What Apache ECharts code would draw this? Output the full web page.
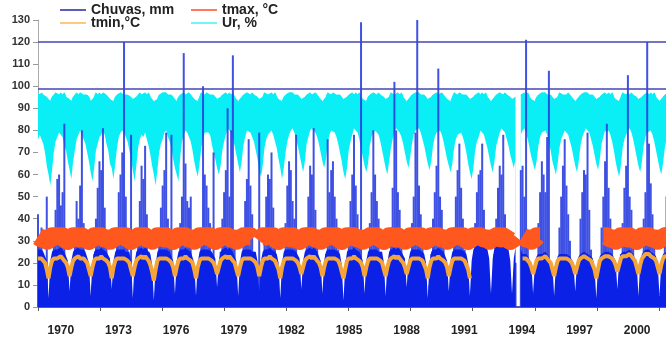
<!DOCTYPE html>
<html>
<head>
<meta charset="utf-8">
<script src="https://cdn.jsdelivr.net/npm/echarts@6/dist/echarts.min.js"></script>
<style>html,body{margin:0;padding:0;background:#fff}#chart{width:666px;height:342px}</style>
</head>
<body>
<div id="chart"></div>
<script>
// monthly series, Jan 1970 .. Dec 1999 (one row per year)
var yearLabels = ['1970', '1973', '1976', '1979', '1982', '1985', '1988', '1991', '1994', '1997', '2000'];

var chuvas = [
  42, 30, 36, 22, 15, 50, 4, 6, 16, 30, 44, 58,
  60, 46, 52, 83, 20, 8, 3, 5, 12, 34, 48, 40,
  55, 80, 38, 20, 14, 6, 2, 10, 24, 40, 54, 66,
  62, 81, 45, 30, 12, 5, 4, 8, 20, 36, 52, 60,
  70, 120, 50, 28, 15, 78, 3, 6, 22, 34, 48, 64,
  58, 73, 42, 25, 12, 4, 3, 7, 18, 30, 45, 55,
  62, 79, 40, 35, 78, 6, 2, 5, 15, 38, 50, 115,
  65, 48, 45, 50, 18, 5, 3, 8, 20, 32, 100, 60,
  55, 45, 38, 22, 70, 6, 3, 9, 25, 40, 52, 62,
  90, 50, 80, 114, 30, 8, 4, 6, 18, 35, 48, 58,
  76, 55, 42, 25, 15, 5, 79, 6, 20, 35, 50, 60,
  58, 70, 45, 30, 18, 6, 3, 8, 22, 38, 55, 66,
  62, 48, 40, 78, 14, 5, 4, 10, 20, 36, 50, 64,
  60, 81, 44, 28, 15, 6, 3, 9, 24, 76, 52, 62,
  66, 50, 40, 26, 12, 5, 3, 8, 20, 34, 48, 60,
  78, 55, 42, 30, 129, 6, 4, 8, 22, 38, 52, 80,
  60, 48, 40, 25, 14, 5, 3, 9, 20, 36, 54, 102,
  80, 52, 44, 28, 15, 6, 3, 8, 22, 38, 50, 79,
  130, 55, 42, 30, 16, 6, 4, 10, 24, 40, 52, 64,
  108, 50, 44, 28, 14, 5, 3, 8, 20, 36, 50, 62,
  74, 54, 40, 26, 12, 5, 3, 8, 22, 38, 52, 60,
  62, 74, 44, 28, 15, 6, 4, 9, 24, 40, 54, 64,
  60, 78, 42, 30, 14, 5, 3, 8, 20, null, null, 62,
  64, 50, 121, 28, 15, 6, 4, 10, 22, 38, 52, 66,
  60, 52, 77, 107, 16, 6, 3, 8, 20, 36, 50, 64,
  76, 55, 42, 30, 14, 5, 4, 9, 22, 40, 52, 62,
  60, 79, 44, 26, 15, 6, 3, 8, 20, 36, 50, 66,
  83, 54, 40, 28, 12, 5, 3, 10, 24, 38, 54, 64,
  105, 50, 44, 30, 15, 6, 4, 8, 22, 40, 52, 120,
  74, 56, 42, 28, 14, 5, 3, 9, 20, 36, 50, 62
];

var tmax = [
  32, 32, 31, 31, 31, 30, 30, 31, 32, 32, 32, 32,
  32, 32, 32, 31, 31, 30, 30, 31, 32, 32, 32, 32,
  31, 32, 32, 31, 31, 30, 30, 31, 32, 32, 32, 32,
  32, 32, 31, 31, 31, 30, 30, 31, 32, 32, 32, 32,
  32, 32, 32, 31, 31, 30, 30, 31, 31, 32, 32, 32,
  32, 32, 31, 31, 31, 30, 30, 31, 32, 32, 32, 32,
  31, 32, 32, 31, 31, 30, 30, 31, 32, 32, 32, 32,
  32, 32, 31, 31, 31, 30, 30, 31, 32, 32, 32, 32,
  32, 32, 32, 31, 31, 30, 30, 31, 32, 32, 32, 32,
  32, 32, 31, 31, 31, 30, 30, 31, 31, 32, 32, 32,
  32, 32, 31, null, null, null, 30, 31, 32, 32, 32, 32,
  32, 32, 32, 31, 31, 30, 30, 31, 32, 32, 32, 32,
  31, 32, 32, 31, 31, 30, 30, 31, 32, 32, 32, 32,
  32, 32, 31, 31, 31, 30, 30, 31, 32, 32, 32, 32,
  32, 32, 32, 31, 31, 30, 30, 31, 32, 32, 32, 32,
  32, 32, 31, 31, 31, 30, 30, 31, 31, 32, 32, 32,
  32, 32, 32, 31, 31, 30, 30, 31, 32, 32, 32, 32,
  31, 32, 31, 31, 31, 30, 30, 31, 32, 32, 32, 32,
  32, 32, 32, 31, 31, 30, 30, 31, 32, 32, 32, 32,
  32, 32, 31, 31, 31, 30, 30, 31, 32, 32, 32, 32,
  32, 32, 32, 31, 31, 30, 30, 31, 32, 32, 32, 32,
  32, 32, 31, 31, 31, 30, 30, 31, 31, 32, 32, 32,
  31, 32, 32, 31, 31, 30, 30, 31, 32, null, null, null,
  32, 32, 31, 31, 31, 30, 30, 31, 32, 32, 32, null,
  null, null, null, null, null, null, null, null, null, null, null, null,
  null, null, null, null, null, null, null, null, null, null, null, null,
  null, null, null, null, null, null, null, null, null, null, 32, 32,
  32, 32, 31, 31, 31, 30, 30, 31, 32, 32, 32, 32,
  31, 32, 32, 31, 31, 30, 30, 31, 32, 32, 32, 32,
  32, 32, 31, 31, 31, 30, 30, 31, 31, 32, 32, 32
];

var tmin = [
  22, 22, 22, 21, 20, 17, 13, 18, 21, 22, 22, 22,
  22, 23, 22, 21, 20, 18, 14, 18, 21, 22, 22, 23,
  22, 22, 22, 21, 20, 17, 14, 18, 21, 22, 22, 22,
  23, 22, 22, 21, 20, 18, 13, 18, 21, 22, 22, 22,
  22, 22, 22, 21, 20, 17, 14, 18, 21, 22, 22, 23,
  22, 23, 22, 21, 19, 16, 12, 17, 21, 22, 22, 22,
  22, 22, 22, 21, 20, 18, 14, 18, 21, 22, 22, 22,
  23, 22, 22, 21, 20, 17, 13, 18, 21, 22, 22, 22,
  22, 22, 22, 21, 20, 18, 15, 18, 21, 22, 22, 23,
  22, 23, 22, 21, 20, 17, 14, 18, 21, 22, 22, 22,
  22, 22, 22, 21, 20, 18, 14, 18, 21, 22, 22, 22,
  23, 22, 22, 21, 19, 17, 13, 18, 21, 22, 22, 22,
  22, 22, 22, 21, 20, 18, 15, 18, 21, 22, 22, 23,
  22, 23, 22, 21, 20, 18, 14, 18, 21, 22, 22, 22,
  22, 22, 22, 21, 19, 16, 13, 17, 21, 22, 22, 22,
  23, 22, 22, 21, 20, 18, 14, 18, 21, 22, 22, 22,
  22, 22, 22, 21, 20, 17, 14, 18, 21, 22, 22, 23,
  22, 23, 22, 21, 20, 18, 15, 18, 21, 22, 22, 22,
  22, 22, 22, 21, 19, 17, 13, 18, 21, 22, 22, 22,
  23, 22, 22, 21, 20, 18, 14, 18, 21, 22, 22, 22,
  22, 22, 22, 21, 19, 17, 13, null, null, null, null, null,
  null, null, null, null, null, null, null, null, null, null, null, null,
  null, null, null, null, null, null, null, null, null, null, null, null,
  22, 22, 22, 21, 20, 18, 15, 18, 21, 22, 22, 22,
  22, 23, 22, 21, 20, 17, 14, 18, 21, 22, 22, 22,
  22, 22, 22, 21, 20, 18, 15, 18, 21, 22, 22, 23,
  23, 22, 22, 21, 19, 17, 13, 17, 21, 22, 22, 23,
  23, 23, 23, 22, 21, 19, 16, 19, 22, 23, 23, 23,
  23, 24, 23, 22, 21, 18, 15, 19, 22, 23, 24, 24,
  24, 23, 23, 22, 21, 18, 15, 19, 22, 23, 23, 23
];

// solid blue fill drawn under the temperature lines
var fundo = [
  26, 26, 26, 25, 25, 21, 4, 21, 25, 26, 26, 26,
  26, 27, 26, 25, 25, 21, 7, 21, 25, 26, 26, 27,
  26, 26, 26, 25, 25, 20, 5, 20, 25, 26, 26, 26,
  27, 26, 26, 25, 25, 22, 8, 21, 25, 26, 26, 26,
  26, 26, 25, 25, 25, 21, 4, 20, 25, 26, 26, 27,
  26, 27, 26, 25, 24, 19, 3, 19, 25, 26, 26, 26,
  26, 26, 26, 25, 25, 21, 6, 21, 25, 26, 26, 26,
  27, 26, 26, 25, 25, 20, 5, 20, 25, 26, 26, 26,
  26, 26, 26, 25, 25, 22, 9, 21, 25, 26, 26, 27,
  26, 27, 26, 25, 25, 21, 5, 20, 25, 26, 26, 26,
  26, 26, 25, 25, 25, 21, 7, 21, 25, 26, 26, 26,
  27, 26, 26, 25, 24, 20, 4, 20, 25, 26, 26, 26,
  26, 26, 26, 25, 25, 22, 8, 21, 25, 26, 26, 27,
  26, 27, 26, 25, 25, 21, 6, 21, 25, 26, 26, 26,
  26, 26, 26, 25, 24, 19, 3, 19, 25, 26, 26, 26,
  27, 26, 26, 25, 25, 21, 6, 21, 25, 26, 26, 26,
  26, 26, 25, 25, 25, 20, 5, 20, 25, 26, 26, 27,
  26, 27, 26, 25, 25, 22, 9, 21, 25, 26, 26, 26,
  26, 26, 26, 25, 24, 20, 4, 20, 25, 26, 26, 26,
  27, 26, 26, 25, 25, 21, 7, 21, 25, 26, 26, 26,
  26, 26, 26, 25, 24, 20, 5, 21, 26, 27, 28, 28,
  28, 28, 27, 27, 26, 22, 6, 22, 27, 27, 28, 28,
  28, 28, 27, 27, 26, 21, 6, 22, 27, null, null, 26,
  24, 24, 24, 23, 23, 20, 6, 19, 23, 24, 24, 24,
  24, 25, 24, 23, 23, 19, 5, 19, 23, 24, 24, 24,
  24, 24, 24, 23, 23, 20, 7, 20, 23, 24, 24, 25,
  25, 24, 24, 23, 22, 18, 4, 19, 23, 24, 24, 25,
  25, 25, 25, 24, 24, 21, 8, 21, 24, 25, 25, 25,
  25, 26, 25, 24, 24, 20, 5, 20, 24, 25, 26, 26,
  26, 25, 25, 24, 23, 19, 5, 20, 24, 24, 25, 25
];

var urLo = [
  76, 78, 76, 74, 70, 64, 60, 55, 62, 70, 75, 77,
  79, 78, 77, 73, 71, 66, 62, 58, 66, 71, 76, 78,
  80, 78, 76, 74, 70, 66, 61, 57, 63, 71, 74, 77,
  78, 80, 78, 74, 71, 65, 63, 58, 65, 72, 77, 79,
  80, 79, 77, 75, 71, 67, 62, 57, 64, 72, 76, 78,
  77, 79, 76, 73, 69, 64, 60, 55, 62, 70, 74, 76,
  79, 80, 77, 75, 72, 67, 63, 60, 57, 68, 75, 78,
  80, 79, 77, 75, 71, 66, 62, 59, 65, 72, 76, 79,
  79, 79, 78, 74, 70, 67, 63, 60, 64, 71, 75, 78,
  81, 80, 79, 76, 73, 69, 65, 61, 66, 73, 77, 80,
  80, 79, 77, 75, 71, 67, 62, 59, 64, 72, 76, 78,
  79, 80, 78, 75, 72, 67, 63, 58, 63, 70, 75, 78,
  80, 81, 79, 76, 73, 69, 65, 61, 66, 74, 77, 80,
  81, 80, 79, 77, 74, 70, 66, 63, 67, 74, 78, 80,
  80, 79, 77, 74, 70, 66, 61, 58, 63, 71, 75, 78,
  81, 80, 79, 76, 72, 68, 64, 61, 65, 73, 77, 79,
  80, 79, 78, 75, 71, 67, 63, 60, 66, 72, 76, 79,
  81, 80, 79, 77, 74, 70, 66, 63, 68, 74, 78, 80,
  80, 81, 79, 76, 73, 69, 65, 62, 66, 73, 77, 79,
  79, 80, 78, 75, 71, 67, 64, 61, 65, 72, 76, 78,
  78, 79, 77, 74, 70, 65, 61, 58, 63, 71, 75, 77,
  80, 79, 78, 75, 72, 68, 64, 61, 66, 73, 76, 79,
  81, 80, 79, 76, 73, 69, 66, 63, 67, null, null, 78,
  80, 81, 79, 76, 72, 68, 65, 62, 66, 73, 77, 79,
  79, 80, 78, 74, 71, 66, 63, 60, 65, 72, 76, 78,
  80, 79, 78, 75, 72, 68, 64, 61, 66, 73, 77, 79,
  81, 80, 79, 76, 73, 69, 65, 62, 67, 74, 77, 80,
  79, 80, 78, 75, 71, 66, 62, 59, 64, 72, 76, 78,
  80, 81, 79, 76, 72, 68, 64, 61, 66, 73, 77, 79,
  79, 80, 78, 75, 71, 67, 63, 60, 65, 72, 76, 78
];

var urHi = [
  97, 96, 97, 96, 96, 95, 94, 93, 95, 96, 97, 97,
  96, 97, 96, 97, 95, 95, 94, 93, 95, 96, 97, 96,
  97, 97, 96, 96, 96, 95, 93, 94, 95, 97, 96, 97,
  96, 97, 97, 96, 95, 94, 94, 93, 95, 96, 96, 97,
  97, 96, 96, 96, 96, 95, 94, 94, 95, 96, 97, 96,
  96, 97, 96, 97, 95, 94, 93, 93, 94, 96, 96, 97,
  97, 97, 96, 96, 96, 95, 94, 93, 95, 96, 96, 97,
  96, 96, 97, 96, 95, 94, 94, 93, 95, 97, 97, 96,
  97, 97, 96, 96, 96, 95, 94, 94, 95, 96, 96, 97,
  96, 97, 96, 97, 95, 94, 93, 93, 95, 96, 96, 97,
  97, 96, 97, 96, 96, 95, 94, 94, 95, 97, 97, 96,
  96, 97, 96, 97, 95, 94, 94, 93, 95, 96, 96, 97,
  97, 97, 96, 96, 96, 95, 94, 94, 95, 96, 96, 97,
  96, 96, 97, 96, 95, 94, 93, 93, 95, 97, 97, 96,
  97, 97, 96, 96, 96, 95, 94, 94, 95, 96, 96, 97,
  96, 97, 96, 97, 95, 94, 94, 93, 95, 96, 96, 97,
  97, 96, 97, 96, 96, 95, 94, 94, 95, 97, 97, 96,
  96, 97, 96, 97, 95, 94, 93, 93, 95, 96, 96, 97,
  97, 97, 96, 96, 96, 95, 94, 94, 95, 96, 96, 97,
  96, 96, 97, 96, 95, 94, 94, 93, 95, 97, 97, 96,
  97, 97, 96, 96, 96, 95, 94, 94, 95, 96, 96, 97,
  96, 97, 96, 97, 95, 94, 93, 93, 95, 96, 96, 97,
  97, 96, 97, 96, 96, 95, 94, 94, 95, null, null, 96,
  96, 97, 96, 97, 95, 94, 94, 93, 95, 96, 96, 97,
  97, 97, 96, 96, 96, 95, 94, 94, 95, 97, 97, 96,
  96, 96, 97, 96, 95, 94, 93, 93, 95, 96, 96, 97,
  97, 97, 96, 96, 96, 95, 94, 94, 95, 96, 96, 97,
  96, 97, 96, 97, 95, 94, 94, 93, 95, 97, 97, 96,
  97, 96, 97, 96, 96, 95, 94, 94, 95, 96, 96, 97,
  96, 97, 96, 97, 95, 94, 93, 93, 95, 96, 96, 97
];

var refLines = [120, 99];

function toPoints(arr) {
  return arr.map(function (v, i) { return [i, v]; });
}

var chart = echarts.init(document.getElementById('chart'));
var font = 'Liberation Sans, Arial, sans-serif';

function legendBox(left, top, item) {
  return {
    left: left, top: top, padding: 0,
    icon: 'rect', itemWidth: 26, itemHeight: 2,
    textStyle: { fontFamily: font, fontSize: 14, fontWeight: 'bold', color: '#222' },
    data: [item]
  };
}

var option = {
  animation: false,
  backgroundColor: '#fff',
  legend: [
    legendBox(60, 3, { name: 'Chuvas, mm', itemStyle: { color: '#4a4ab8' } }),
    legendBox(191, 3, { name: 'tmax, °C', itemStyle: { color: '#ff7a5a' } }),
    legendBox(60, 16, { name: 'tmin,°C', itemStyle: { color: '#ffc880' } }),
    legendBox(191, 16, { name: 'Ur, %', itemStyle: { color: '#70f8f8' } })
  ],
  grid: [
    { left: 38, right: 0, top: 20, bottom: 35 },
    { left: 32, width: 650, top: 20, bottom: 35 }
  ],
  xAxis: [{
    type: 'value', min: 0, max: 357.7, interval: 35.37,
    axisLine: { lineStyle: { color: '#22228a', width: 1.5 } },
    axisTick: { length: 4, lineStyle: { color: '#555' } },
    axisLabel: { show: false },
    splitLine: { show: false }
  }, {
    gridIndex: 1, type: 'category', data: yearLabels, boundaryGap: true,
    axisLine: { show: false }, axisTick: { show: false },
    axisLabel: { interval: 0, margin: 18, fontFamily: font, fontSize: 12, fontWeight: 'bold', color: '#222' }
  }],
  yAxis: [{
    type: 'value', min: 0, max: 130, interval: 10,
    axisLine: { show: true, lineStyle: { color: '#aaa' } },
    axisTick: { show: true, length: 5, lineStyle: { color: '#999' } },
    axisLabel: { margin: 8, fontFamily: font, fontSize: 11, fontWeight: 'bold', color: '#333' },
    splitLine: { show: false }
  }, {
    gridIndex: 1, show: false, min: 0, max: 130
  }],
  series: [{
    // humidity band: cyan up to the daily maximum, white below the minimum
    name: 'Ur, %', type: 'line', symbol: 'none', color: '#0aeef5', z: 1,
    lineStyle: { width: 1, color: '#0aeef5' },
    areaStyle: { color: '#0aeef5', opacity: 1 },
    data: toPoints(urHi)
  }, {
    name: 'urBase', type: 'line', symbol: 'none', z: 1,
    lineStyle: { width: 0 },
    areaStyle: { color: '#ffffff', opacity: 1 },
    data: toPoints(urLo)
  }, {
    name: 'Chuvas, mm', type: 'bar', barWidth: 2, color: '#2b3fe0', z: 2,
    itemStyle: { color: '#2b3fe0', opacity: 0.9 },
    data: toPoints(chuvas)
  }, {
    name: 'fundo', type: 'line', symbol: 'none', z: 3,
    lineStyle: { width: 0 },
    areaStyle: { color: '#0b22e6', opacity: 1 },
    data: toPoints(fundo)
  }, {
    name: 'tmax, °C', type: 'line', symbol: 'none', color: '#ff581e', z: 4,
    lineStyle: { width: 18, color: '#ff581e', join: 'round' },
    data: toPoints(tmax)
  }, {
    name: 'tmin,°C', type: 'line', symbol: 'none', color: '#f5a537', z: 5,
    lineStyle: { width: 4, color: '#f5a537' },
    data: toPoints(tmin),
    markLine: {
      silent: true, symbol: ['none', 'none'], label: { show: false },
      lineStyle: { color: '#4646b4', width: 1.5, type: 'solid' },
      data: refLines.map(function (v) { return { yAxis: v }; })
    }
  }]
};

chart.setOption(option);
</script>
</body>
</html>
